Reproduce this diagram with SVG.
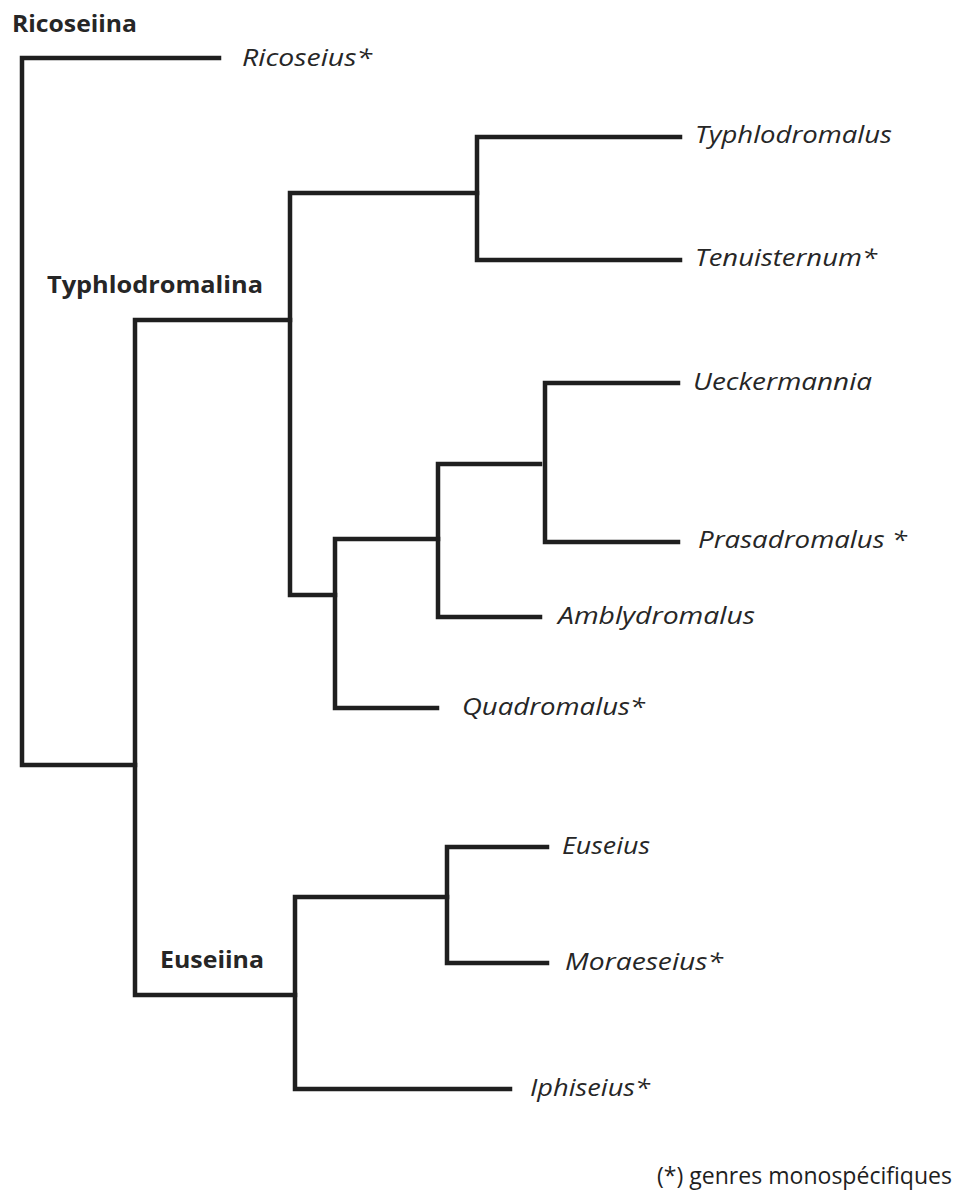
<svg xmlns="http://www.w3.org/2000/svg" width="955" height="1198" viewBox="0 0 955 1198">
  <style>
    .edge { fill: none; stroke: #1f1f1f; stroke-width: 4.5; stroke-linecap: square; stroke-linejoin: miter; }
    .clade { font-family: "Open Sans", "Liberation Sans", sans-serif; font-weight: bold; font-size: 24px; fill: #262626; }
    .taxon { font-family: "Open Sans", "Liberation Sans", sans-serif; font-style: italic; font-size: 23px; fill: #262626; }
    .note { font-family: "Open Sans", "Liberation Sans", sans-serif; font-weight: normal; font-size: 23px; fill: #1e1e1e; }
  </style>
  <rect width="955" height="1198" fill="#ffffff"/>
  <g id="connectors">
    <path class="edge" d="M219,58 H22 V765 H135"/>
    <path class="edge" d="M290,320 H135 V995 H295"/>
    <path class="edge" d="M477,193 H290 V595 H335"/>
    <path class="edge" d="M680,137 H477 V260 H680"/>
    <path class="edge" d="M438,539 H335 V708 H437"/>
    <path class="edge" d="M540,464 H438 V617 H540"/>
    <path class="edge" d="M678,383 H545 V542 H678"/>
    <path class="edge" d="M447,897 H295 V1089 H510"/>
    <path class="edge" d="M547,847 H447 V963 H547"/>
  </g>
  <g id="clade-ricoseiina"><text class="clade" x="12" y="32" textLength="125" lengthAdjust="spacingAndGlyphs">Ricoseiina</text></g>
  <g id="clade-typhlodromalina"><text class="clade" x="47" y="293" textLength="216" lengthAdjust="spacingAndGlyphs">Typhlodromalina</text></g>
  <g id="clade-euseiina"><text class="clade" x="160" y="968" textLength="104" lengthAdjust="spacingAndGlyphs">Euseiina</text></g>
  <g id="taxon-ricoseius"><text class="taxon" x="242" y="66" textLength="130" lengthAdjust="spacingAndGlyphs">Ricoseius*</text></g>
  <g id="taxon-typhlodromalus"><text class="taxon" x="695" y="143" textLength="197" lengthAdjust="spacingAndGlyphs">Typhlodromalus</text></g>
  <g id="taxon-tenuisternum"><text class="taxon" x="695" y="266" textLength="182" lengthAdjust="spacingAndGlyphs">Tenuisternum*</text></g>
  <g id="taxon-ueckermannia"><text class="taxon" x="693" y="390" textLength="179" lengthAdjust="spacingAndGlyphs">Ueckermannia</text></g>
  <g id="taxon-prasadromalus"><text class="taxon" x="698" y="548" textLength="209" lengthAdjust="spacingAndGlyphs">Prasadromalus *</text></g>
  <g id="taxon-amblydromalus"><text class="taxon" x="558" y="624" textLength="197" lengthAdjust="spacingAndGlyphs">Amblydromalus</text></g>
  <g id="taxon-quadromalus"><text class="taxon" x="462" y="715" textLength="183" lengthAdjust="spacingAndGlyphs">Quadromalus*</text></g>
  <g id="taxon-euseius"><text class="taxon" x="562" y="854" textLength="88" lengthAdjust="spacingAndGlyphs">Euseius</text></g>
  <g id="taxon-moraeseius"><text class="taxon" x="565" y="970" textLength="158" lengthAdjust="spacingAndGlyphs">Moraeseius*</text></g>
  <g id="taxon-iphiseius"><text class="taxon" x="530" y="1096" textLength="120" lengthAdjust="spacingAndGlyphs">Iphiseius*</text></g>
  <g id="legend"><text class="note" x="657" y="1184" textLength="295" lengthAdjust="spacingAndGlyphs">(*) genres monospécifiques</text></g>
</svg>
